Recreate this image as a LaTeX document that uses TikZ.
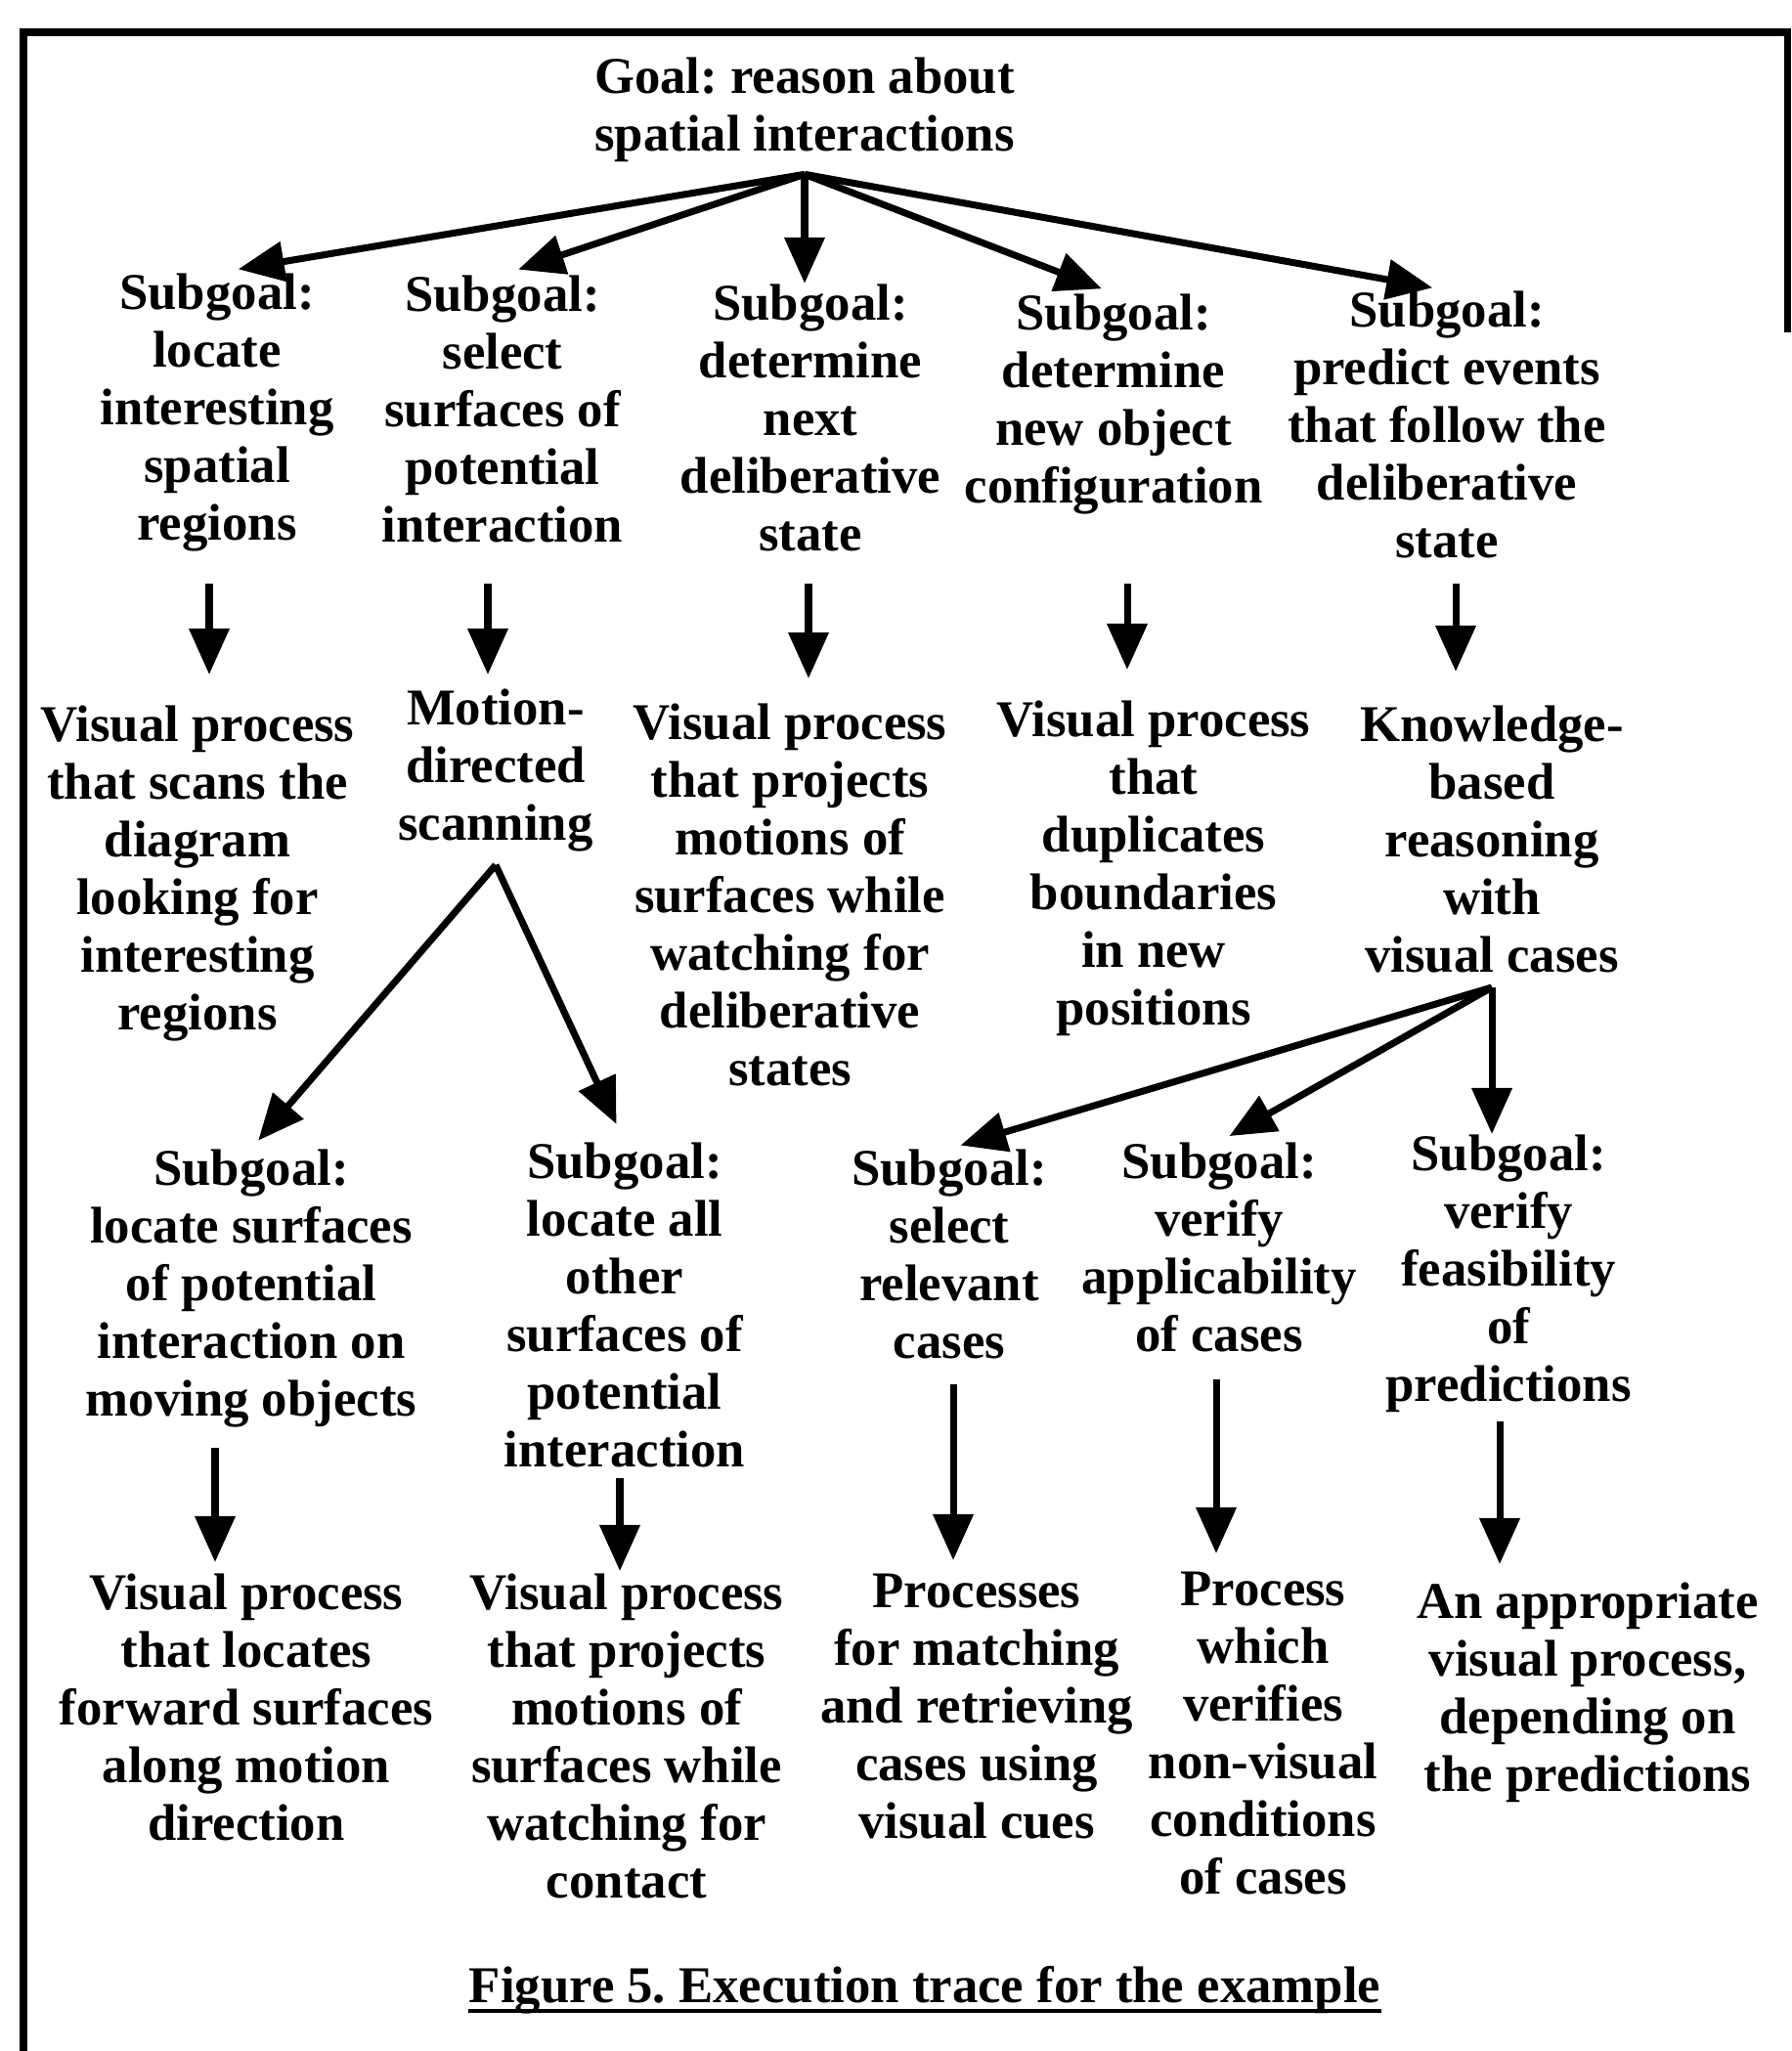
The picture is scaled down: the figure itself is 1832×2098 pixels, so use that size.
\documentclass[tikz,border=0pt]{standalone}
\usepackage{fontspec}
\setmainfont{Liberation Serif}
\usetikzlibrary{arrows.meta,positioning}
\frenchspacing

\begin{document}
\begin{tikzpicture}[x=0.01cm,y=-0.01cm,
    lbl/.style={align=center,inner sep=0pt,anchor=north,font=\fontsize{15}{16.8}\selectfont\bfseries},
    arr/.style={line width=2pt,-{Triangle[length=4.7mm,width=4mm]}}]
  \useasboundingbox (0,0) rectangle (1832,2098);
  % frame
  \draw[line width=2pt] (1832,33) -- (24,33) -- (24,2098);
  \draw[line width=2pt] (1828,33) -- (1828,340);

  \node[lbl] (goal) at (823,58) {Goal: reason about\\spatial interactions};

  % first row of subgoals
  \node[lbl] (sg1) at (222,279) {Subgoal:\\locate\\interesting\\spatial\\regions};
  \node[lbl] (sg2) at (514,281) {Subgoal:\\select\\surfaces of\\potential\\interaction};
  \node[lbl] (sg3) at (829,290) {Subgoal:\\determine\\next\\deliberative\\state};
  \node[lbl] (sg4) at (1139,300) {Subgoal:\\determine\\new object\\configuration};
  \node[lbl] (sg5) at (1480,297) {Subgoal:\\predict events\\that follow the\\deliberative\\state};

  % processes
  \node[lbl] (vp1) at (202,721) {Visual process\\that scans the\\diagram\\looking for\\interesting\\regions};
  \node[lbl] (vp2) at (507,704) {Motion-\\directed\\scanning};
  \node[lbl] (vp3) at (808,719) {Visual process\\that projects\\motions of\\surfaces while\\watching for\\deliberative\\states};
  \node[lbl] (vp4) at (1180,716) {Visual process\\that\\duplicates\\boundaries\\in new\\positions};
  \node[lbl] (vp5) at (1526,721) {Knowledge-\\based\\reasoning\\with\\visual cases};

  % second row of subgoals
  \node[lbl] (rs1) at (257,1175) {Subgoal:\\locate surfaces\\of potential\\interaction on\\moving objects};
  \node[lbl] (rs2) at (639,1168) {Subgoal:\\locate all\\other\\surfaces of\\potential\\interaction};
  \node[lbl] (rs3) at (971,1175) {Subgoal:\\select\\relevant\\cases};
  \node[lbl] (rs4) at (1247,1168) {Subgoal:\\verify\\applicability\\of cases};
  \node[lbl] (rs5) at (1543,1160) {Subgoal:\\verify\\feasibility\\of\\predictions};

  \node[lbl] (pr1) at (252,1609) {Visual process\\that locates\\forward surfaces\\along motion\\direction};
  \node[lbl] (pr2) at (641,1609) {Visual process\\that projects\\motions of\\surfaces while\\watching for\\contact};
  \node[lbl] (pr3) at (999,1609) {Processes\\for matching\\and retrieving\\cases using\\visual cues};
  \node[lbl] (pr4) at (1292,1607) {Process\\which\\verifies\\non-visual\\conditions\\of cases};
  \node[lbl] (pr5) at (1624,1618) {An appropriate\\visual process,\\depending on\\the predictions};

  \node[lbl,anchor=base] (cap) at (946,2048) {Figure 5. Execution trace for the example};
  \draw[line width=1pt] ([yshift=-0.9mm]cap.base west) -- ([yshift=-0.9mm]cap.base east);

  % goal to subgoals
  \coordinate[below=1.2mm of goal] (gfork);
  \foreach \i/\gb in {1/2.2,2/1.7,4/1.3,5/1.5}
    \draw[arr,shorten >=\gb mm] (gfork) -- (sg\i.north);
  \draw[arr] (gfork) -- (gfork |- sg3.north);

  \foreach \i/\x/\ga/\gb in {1/214/3.2/3.1,2/499/4.1/1.4,3/827/3.2/2.5,4/1153/7.0/3.1,5/1489/2.5/3.4}
    \draw[arr,shorten <=\ga mm,shorten >=\gb mm] (sg\i.south -| \x,0) -- (vp\i.north -| \x,0);

  % forks below the processes
  \coordinate[below=1.3mm of vp2] (mfork);
  \draw[arr,shorten >=1.1mm] (mfork) -- (rs1.north);
  \draw[arr,shorten >=2mm] (mfork) -- (rs2.north);
  \coordinate[below=1.4mm of vp5] (kfork);
  \draw[arr,shorten >=1.2mm] (kfork) -- (rs3.north);
  \draw[arr,shorten >=1.2mm] (kfork) -- (rs4.north);
  \draw[arr] (kfork) -- (kfork |- rs5.north);

  \foreach \i/\x/\ga/\gb in {1/220/2.0/1.1,2/634/1.0/0.2,3/975/2.5/1.3,4/1244/2.7/1.8,5/1534/0.8/1.8}
    \draw[arr,shorten <=\ga mm,shorten >=\gb mm] (rs\i.south -| \x,0) -- (pr\i.north -| \x,0);
\end{tikzpicture}
\end{document}
